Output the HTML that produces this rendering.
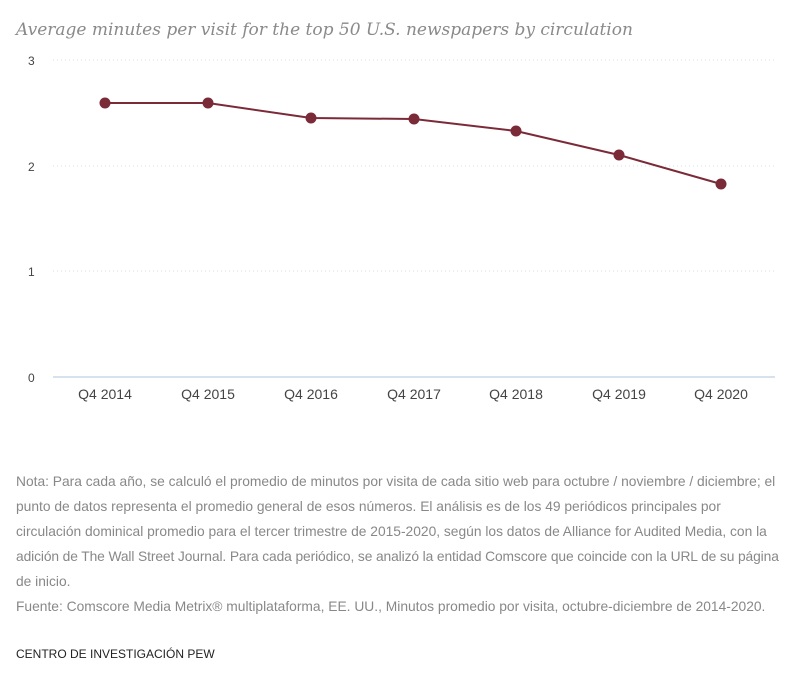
<!DOCTYPE html>
<html><head><style>
body{margin:0;background:#fff;width:800px;height:683px;overflow:hidden;font-family:"Liberation Sans",sans-serif}
.t{position:absolute;left:16px;top:20px;font-family:"DejaVu Serif",serif;font-style:italic;font-size:17px;color:#8a8a8a;white-space:nowrap}
.n{position:absolute;left:16px;top:469px;width:790px;font-size:13.8px;line-height:25px;color:#888;white-space:nowrap}
.p{position:absolute;left:16px;top:647px;font-size:12px;color:#222}
</style></head><body>
<div class="t">Average minutes per visit for the top 50 U.S. newspapers by circulation</div>
<svg width="800" height="440" style="position:absolute;left:0;top:0" font-family="Liberation Sans, sans-serif">
<g stroke="#ddd" stroke-dasharray="1,3">
<line x1="53" x2="775" y1="60" y2="60"/><line x1="53" x2="775" y1="166" y2="166"/><line x1="53" x2="775" y1="271" y2="271"/>
</g>
<line x1="53" x2="775" y1="377" y2="377" stroke="#c8d8e8" stroke-width="1.5"/>
<g font-size="12" fill="#444">
<text x="28" y="65">3</text><text x="28" y="171">2</text><text x="28" y="276">1</text><text x="28" y="382">0</text>
</g>
<g font-size="14" fill="#444" text-anchor="middle">
<text x="105" y="399">Q4 2014</text><text x="208" y="399">Q4 2015</text><text x="311" y="399">Q4 2016</text><text x="414" y="399">Q4 2017</text><text x="516" y="399">Q4 2018</text><text x="619" y="399">Q4 2019</text><text x="721" y="399">Q4 2020</text>
</g>
<polyline fill="none" stroke="#7b2a38" stroke-width="2" points="105,103 208,103 311,118 414,119 516,131 619,155 721,184"/>
<g fill="#7b2a38">
<circle cx="105" cy="103" r="5.5"/><circle cx="208" cy="103" r="5.5"/><circle cx="311" cy="118" r="5.5"/><circle cx="414" cy="119" r="5.5"/><circle cx="516" cy="131" r="5.5"/><circle cx="619" cy="155" r="5.5"/><circle cx="721" cy="184" r="5.5"/>
</g>
</svg>
<div class="n">Nota: Para cada año, se calculó el promedio de minutos por visita de cada sitio web para octubre / noviembre / diciembre; el<br>punto de datos representa el promedio general de esos números. El análisis es de los 49 periódicos principales por<br>circulación dominical promedio para el tercer trimestre de 2015-2020, según los datos de Alliance for Audited Media, con la<br><span style="letter-spacing:-0.11px">adición de The Wall Street Journal. Para cada periódico, se analizó la entidad Comscore que coincide con la URL de su página</span><br>de inicio.<br>Fuente: Comscore Media Metrix® multiplataforma, EE. UU., Minutos promedio por visita, octubre-diciembre de 2014-2020.</div>
<div class="p">CENTRO DE INVESTIGACIÓN PEW</div>
</body></html>
